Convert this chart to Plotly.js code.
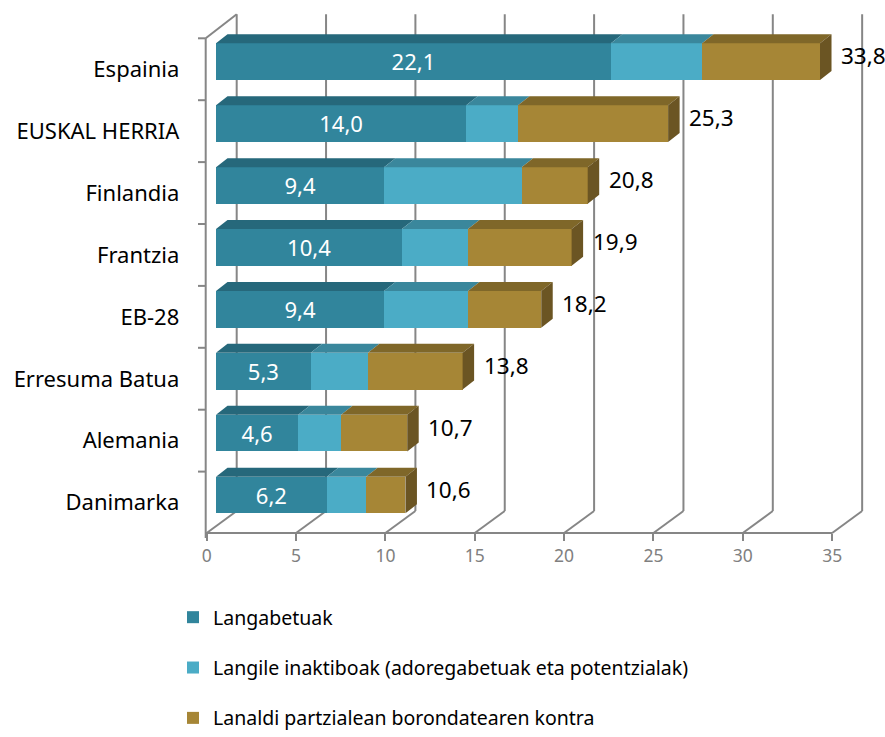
<!DOCTYPE html>
<html>
<head>
<meta charset="utf-8">
<script src="https://cdn.plot.ly/plotly-3.0.1.min.js"></script>
<style>html,body{margin:0;padding:0;background:#fff;overflow:hidden;}#chart{width:885px;height:737px;}</style>
</head>
<body>
<div id="chart"></div>
<script>
// ---- data ----
const categories = ['Espainia', 'EUSKAL HERRIA', 'Finlandia', 'Frantzia', 'EB-28', 'Erresuma Batua', 'Alemania', 'Danimarka'];
const langabetuak = [22.1, 14.0, 9.4, 10.4, 9.4, 5.3, 4.6, 6.2];
const inaktiboak = [5.1, 2.9, 7.7, 3.7, 4.7, 3.2, 2.4, 2.2];
const lanaldi = [6.6, 8.4, 3.7, 5.8, 4.1, 5.3, 3.7, 2.2];
const totals = [33.8, 25.3, 20.8, 19.9, 18.2, 13.8, 10.7, 10.6];
const xTicks = [0, 5, 10, 15, 20, 25, 30, 35];
const seriesNames = ['Langabetuak', 'Langile inaktiboak (adoregabetuak eta potentzialak)', 'Lanaldi partzialean borondatearen kontra'];

// ---- styling / geometry ----
const W = 885, H = 737;
const PXU = 17.87;          // px per x unit
const X0 = 216;             // px of bar origin
const CAT = 61.9;           // px per category
const Y0 = 61.7;            // px of first bar centre
const FONT = 'Noto Sans, Open Sans, sans-serif';
const frontCol = ['#31859C', '#4BACC6', '#A68636'];
const topCol = ['#26687B', '#3A879C', '#7F6729'];
const sideCol = '#6B5523';
const gridCol = '#868686';
const barW = 36.7 / CAT;
const dX = 11.5 / PXU, dY = 9 / CAT;   // depth offsets

const xAt = px => (px - X0) / PXU;
const yAt = py => (py - Y0) / CAT;
const idx = categories.map((c, i) => i);
const fmt = v => v.toFixed(1).replace('.', ',');

const series = [langabetuak, inaktiboak, lanaldi];
const traces = [];

// front faces (bars)
series.forEach((vals, s) => {
  traces.push({
    type: 'bar', orientation: 'h', name: seriesNames[s], legendgroup: 'g' + s,
    y: idx, x: vals, width: barW,
    marker: {color: frontCol[s], line: {width: 0}},
    text: s === 0 ? vals.map(fmt) : vals.map(() => ''),
    textposition: s === 0 ? 'inside' : 'none',
    insidetextanchor: 'middle', textangle: 0,
    textfont: {color: '#ffffff', size: 23, family: FONT},
    hoverinfo: 'skip'
  });
});

// top faces and end side faces, computed from the data
series.forEach((vals, s) => {
  const xs = [], ys = [];
  vals.forEach((v, i) => {
    let start = 0;
    for (let k = 0; k < s; k++) start += series[k][i];
    const end = start + v;
    const yt = i - barW / 2;
    xs.push(start, end, end + dX, start + dX, start, null);
    ys.push(yt, yt, yt - dY, yt - dY, yt, null);
  });
  traces.push({type: 'scatter', mode: 'lines', x: xs, y: ys, fill: 'toself', fillcolor: topCol[s],
    line: {width: 0, color: topCol[s]}, showlegend: false, hoverinfo: 'skip'});
});
{
  const xs = [], ys = [];
  totals.forEach((t, i) => {
    const yt = i - barW / 2, yb = i + barW / 2;
    xs.push(t, t + dX, t + dX, t, t, null);
    ys.push(yt, yt - dY, yb - dY, yb, yt, null);
  });
  traces.push({type: 'scatter', mode: 'lines', x: xs, y: ys, fill: 'toself', fillcolor: sideCol,
    line: {width: 0, color: sideCol}, showlegend: false, hoverinfo: 'skip'});
}
// dummy trace for the front tick axis
traces.push({type: 'scatter', x: [0], y: [null], xaxis: 'x2', showlegend: false, hoverinfo: 'skip'});

// ---- frame shapes ----
const shapes = [];
const L = (x0, y0, x1, y1) => ({type: 'line', xref: 'x', yref: 'y', x0, y0, x1, y1, layer: 'below',
  line: {color: gridCol, width: 2}});
const backOff = xAt(236.7), frontOff = xAt(206.7);
xTicks.forEach(t => {
  shapes.push(L(t + backOff, yAt(14.3), t + backOff, yAt(511)));
  shapes.push(L(t + backOff, yAt(511), t + frontOff, yAt(533)));
});
shapes.push(L(xAt(205.7), yAt(38.3), xAt(205.7), yAt(538)));
shapes.push(L(xAt(205.7), yAt(38.3), xAt(236.7), yAt(14.3)));
shapes.push(L(xAt(205), yAt(533), xAt(832.5), yAt(533)));
const frontTop = yAt(38.3);
for (let k = 0; k < categories.length; k++) {
  shapes.push(L(xAt(198), frontTop + k, xAt(205.7), frontTop + k));
}

// ---- annotations (totals) ----
const annotations = totals.map((t, i) => ({
  x: t, y: i, xref: 'x', yref: 'y', text: fmt(t), showarrow: false,
  xanchor: 'left', xshift: 19, yshift: 6, font: {size: 22.5, color: '#000', family: FONT}
}));

const labelShift = yAt(69.3);
const layout = {
  width: W, height: H, margin: {l: 0, r: 0, t: 0, b: 0, autoexpand: false},
  paper_bgcolor: '#fff', plot_bgcolor: 'rgba(0,0,0,0)',
  barmode: 'stack', bargap: 0,
  font: {family: FONT},
  xaxis: {range: [xAt(0), xAt(W)], showgrid: false, zeroline: false, showline: false,
    showticklabels: false, ticks: '', fixedrange: true},
  xaxis2: {overlaying: 'x', anchor: 'free', position: 1 - 533 / H, side: 'bottom',
    range: [(0 - 206.7) / PXU, (W - 206.7) / PXU], tickvals: xTicks, ticktext: xTicks.map(String),
    ticks: 'outside', ticklen: 7, tickwidth: 2, tickcolor: gridCol, showgrid: false, zeroline: false,
    showline: false, tickfont: {size: 17.5, color: '#808080', family: FONT}},
  yaxis: {range: [yAt(H), yAt(0)], anchor: 'free', position: 205.7 / W, side: 'left',
    tickvals: idx.map(i => i + labelShift), ticktext: categories,
    ticks: 'outside', ticklen: 22, tickcolor: 'rgba(0,0,0,0)', showgrid: false, zeroline: false,
    showline: false, tickfont: {size: 22, color: '#000', family: FONT}},
  showlegend: true,
  legend: {x: 173 / W, y: 1 - 598 / H, xanchor: 'left', yanchor: 'top', orientation: 'v',
    font: {size: 19.5, color: '#000', family: FONT}, tracegroupgap: 22, traceorder: 'grouped',
    bgcolor: 'rgba(0,0,0,0)'},
  shapes, annotations
};

Plotly.newPlot('chart', traces, layout, {displayModeBar: false, staticPlot: true});
</script>
</body>
</html>
